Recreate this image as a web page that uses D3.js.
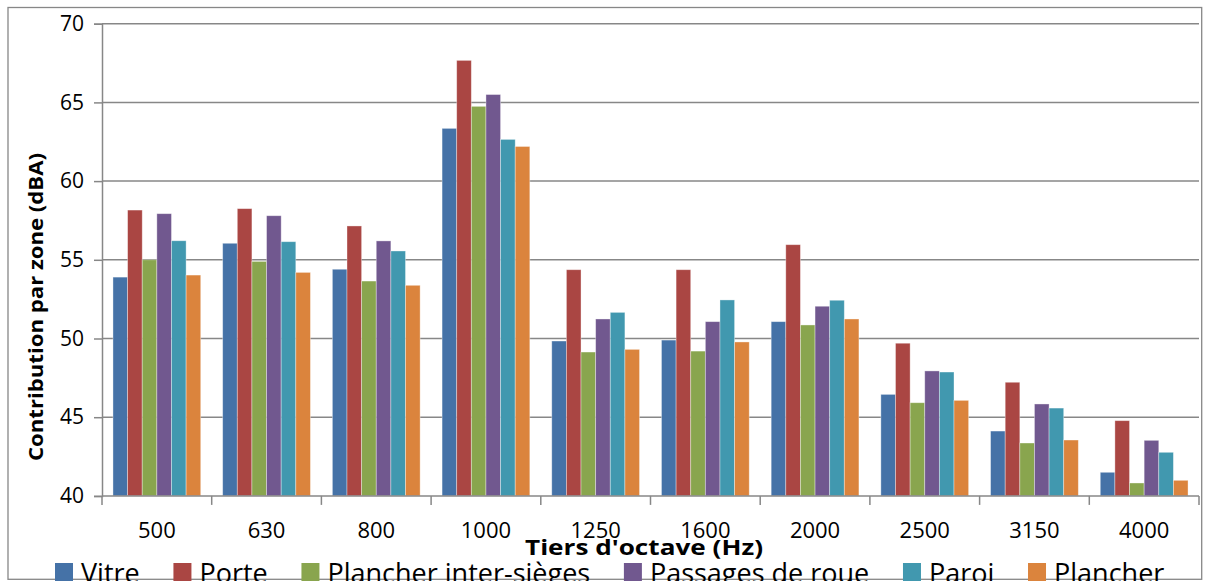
<!DOCTYPE html>
<html>
<head>
<meta charset="utf-8">
<script src="https://cdn.jsdelivr.net/npm/d3@7"></script>
<style>
  html, body { margin: 0; padding: 0; background: #fff; }
  svg { display: block; font-family: "Open Sans", "Noto Sans", sans-serif; }
</style>
</head>
<body>
<svg id="chart" width="1207" height="581"></svg>
<script>
// Third-octave bands (Hz)
const categories = ["500", "630", "800", "1000", "1250", "1600", "2000", "2500", "3150", "4000"];

// Contribution per zone, dBA
const series = ["Vitre", "Porte", "Plancher inter-sièges", "Passages de roue", "Paroi", "Plancher"];
const vitre          = [53.9, 56.05, 54.4, 63.35, 49.84, 49.9, 51.07, 46.45, 44.12, 41.5];
const porte          = [58.16, 58.25, 57.15, 67.67, 54.37, 54.37, 55.96, 49.7, 47.22, 44.78];
const plancherInter  = [55.0, 54.9, 53.65, 64.75, 49.14, 49.2, 50.86, 45.92, 43.36, 40.82];
const passagesRoue   = [57.93, 57.8, 56.2, 65.5, 51.24, 51.07, 52.05, 47.94, 45.84, 43.53];
const paroi          = [56.21, 56.15, 55.56, 62.65, 51.66, 52.45, 52.43, 47.87, 45.58, 42.77];
const plancher       = [54.03, 54.2, 53.38, 62.2, 49.31, 49.78, 51.24, 46.07, 43.55, 40.99];
const seriesValues = [vitre, porte, plancherInter, passagesRoue, paroi, plancher];
const colors = ["#4572A7", "#AA4643", "#89A54E", "#71588F", "#4198AF", "#DB843D"];

const yTicks = [40, 45, 50, 55, 60, 65, 70];
const yTitle = "Contribution par zone (dBA)";
const xTitle = "Tiers d'octave (Hz)";

const svg = d3.select("#chart");
const plot = { left: 102, right: 1199, top: 23.7, bottom: 495.9 };
const gridColor = "#878787";

// Outer chart frame
svg.append("rect")
  .attr("x", 8).attr("y", 7.5)
  .attr("width", 1193.7).attr("height", 571.8)
  .attr("fill", "#fff").attr("stroke", gridColor).attr("stroke-width", 1.3);

const x0 = d3.scaleBand().domain(categories).range([plot.left, plot.right]).padding(0);
const x1 = d3.scaleBand().domain(series)
  .range([x0.bandwidth() * 0.1, x0.bandwidth() * 0.9]).padding(0);
const y = d3.scaleLinear().domain([40, 70]).range([plot.bottom, plot.top]);

// Horizontal gridlines
svg.append("g").selectAll("line").data(yTicks.filter(v => v > 40)).join("line")
  .attr("x1", plot.left).attr("x2", plot.right)
  .attr("y1", d => y(d)).attr("y2", d => y(d))
  .attr("stroke", gridColor).attr("stroke-width", 1.5);

// Bars
const groups = svg.append("g").selectAll("g").data(categories).join("g")
  .attr("transform", d => `translate(${x0(d)},0)`);
groups.selectAll("rect")
  .data((c, i) => series.map((s, k) => ({ s, k, v: seriesValues[k][i] })))
  .join("rect")
  .attr("x", d => x1(d.s))
  .attr("width", x1.bandwidth())
  .attr("y", d => y(d.v))
  .attr("height", d => y(40) - y(d.v))
  .attr("fill", d => colors[d.k])
  .attr("stroke", "rgba(255,255,255,0.45)")
  .attr("stroke-width", 0.8);

// Y axis
const yAxis = d3.axisLeft(y).tickValues(yTicks).tickSize(8).tickPadding(10).tickFormat(d3.format("d"));
const gy = svg.append("g").attr("transform", `translate(${plot.left},0)`).call(yAxis);
gy.select(".domain").attr("stroke", gridColor).attr("stroke-width", 1.5);
gy.selectAll(".tick line").attr("stroke", gridColor).attr("stroke-width", 1.5);
gy.selectAll(".tick text").attr("font-size", 21).attr("fill", "#000")
  .attr("font-family", "'Open Sans', sans-serif");

// X axis with ticks between the bands
const gx = svg.append("g").attr("transform", `translate(0,${plot.bottom})`);
gx.append("line").attr("x1", plot.left).attr("x2", plot.right)
  .attr("stroke", gridColor).attr("stroke-width", 1.5);
const boundaries = categories.map(c => x0(c)).concat([plot.right]);
gx.selectAll("line.tk").data(boundaries).join("line").attr("class", "tk")
  .attr("x1", d => d).attr("x2", d => d).attr("y1", 0).attr("y2", 9)
  .attr("stroke", gridColor).attr("stroke-width", 1.5);
gx.selectAll("text").data(categories).join("text")
  .attr("x", d => x0(d) + x0.bandwidth() / 2)
  .attr("y", 42)
  .attr("text-anchor", "middle")
  .attr("font-size", 22)
  .text(d => d);

// Axis titles
svg.append("text")
  .attr("transform", "translate(43,307) rotate(-90)")
  .attr("text-anchor", "middle")
  .attr("font-size", 20).attr("font-weight", "bold")
  .attr("textLength", 308).attr("lengthAdjust", "spacingAndGlyphs")
  .text(yTitle);
svg.append("text")
  .attr("x", 644).attr("y", 555)
  .attr("text-anchor", "middle")
  .attr("font-size", 22).attr("font-weight", "bold")
  .attr("textLength", 238).attr("lengthAdjust", "spacingAndGlyphs")
  .text(xTitle);

// Legend, laid out left to right
const legend = svg.append("g");
let lx = 55;
series.forEach((s, k) => {
  legend.append("rect")
    .attr("x", lx).attr("y", 563).attr("width", 18).attr("height", 18)
    .attr("fill", colors[k]);
  const t = legend.append("text")
    .attr("x", lx + 26).attr("y", 583)
    .attr("font-size", 27)
    .text(s);
  lx += 26 + t.node().getComputedTextLength() + 33.7;
});
</script>
</body>
</html>
